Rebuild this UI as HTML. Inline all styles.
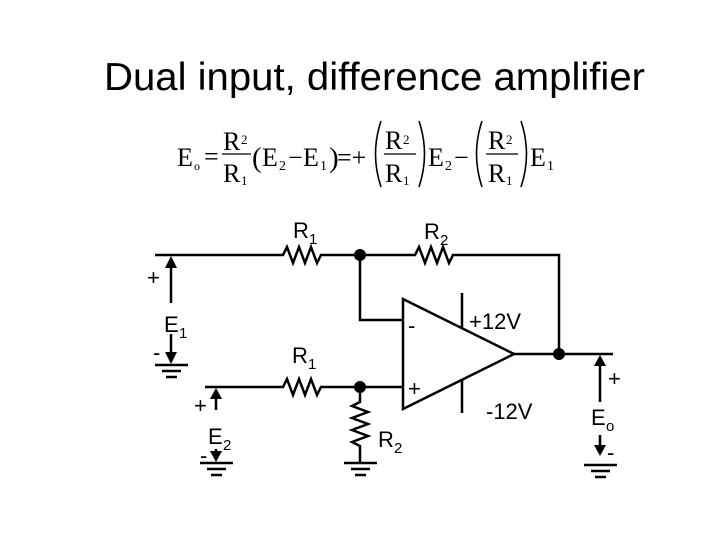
<!DOCTYPE html>
<html><head><style>body{margin:0;background:#fff}svg{display:block}</style></head><body>
<svg width="720" height="540" xmlns="http://www.w3.org/2000/svg" font-family="Liberation Sans, sans-serif">
<rect width="720" height="540" fill="#fff"/>
<text x="104" y="90" font-size="39" textLength="541" lengthAdjust="spacingAndGlyphs">Dual input, difference amplifier</text>
<g font-family="Liberation Serif, serif" font-size="26" fill="#000">
<text x="177" y="166">E</text><text x="194" y="170" font-size="12">o</text>
<text x="204" y="165">=</text>
<text x="223" y="150">R</text><text x="241" y="144" font-size="13">2</text>
<line x1="222" y1="154" x2="251" y2="154" stroke="#000" stroke-width="1.2"/>
<text x="223" y="182">R</text><text x="241" y="185" font-size="13">1</text>
<text x="252" y="167" font-size="29">(</text>
<text x="262" y="166">E</text><text x="279" y="170" font-size="14">2</text>
<text x="288" y="166">−</text>
<text x="303" y="166">E</text><text x="320" y="170" font-size="14">1</text>
<text x="329" y="167" font-size="29">)</text>
<text x="337" y="166">=+</text>
<text x="385" y="149">R</text><text x="403" y="144" font-size="13">2</text>
<line x1="384" y1="154" x2="416" y2="154" stroke="#000" stroke-width="1.2"/>
<text x="385" y="182">R</text><text x="403" y="185" font-size="13">1</text>
<text x="428" y="166">E</text><text x="445" y="170" font-size="14">2</text>
<text x="454" y="166">−</text>
<text x="488" y="149">R</text><text x="506" y="144" font-size="13">2</text>
<line x1="486" y1="154" x2="518" y2="154" stroke="#000" stroke-width="1.2"/>
<text x="488" y="182">R</text><text x="506" y="185" font-size="13">1</text>
<text x="530" y="166">E</text><text x="547" y="170" font-size="14">1</text>
</g>
<g stroke="#000" stroke-width="1.6" fill="none">
<path d="M381,121 Q370,154 381,187"/><path d="M419,121 Q430,154 419,187"/>
<path d="M482,121 Q471,154 482,187"/><path d="M521,121 Q532,154 521,187"/>
</g>
<g stroke="#000" stroke-width="2.5" fill="none">
<polyline points="155,255 283,255 287,247 293,263 299,247 305,263 311,247 317,263 321,255 415,255 419,247 425,263 431,247 437,263 443,247 449,263 453,255 559,255 559,354"/>
<polyline points="360,255 360,320 403,320"/>
<polyline points="205,387 283,387 287,379 293,395 299,379 305,395 311,379 317,395 321,387 403,387"/>
<polyline points="360,387 360,402 352,406 368,412 352,418 368,424 352,430 368,436 352,442 360,446 360,463"/>
<polygon points="403,299 403,409 514,354"/>
<line x1="514" y1="354" x2="613" y2="354"/>
<line x1="462" y1="293" x2="462" y2="328"/><line x1="462" y1="380" x2="462" y2="413"/>
<line x1="171" y1="262" x2="171" y2="303"/><line x1="171" y1="334" x2="171" y2="355"/>
<line x1="216" y1="395" x2="216" y2="410"/><line x1="216" y1="449" x2="216" y2="455"/>
<line x1="600" y1="362" x2="600" y2="402"/><line x1="600" y1="435" x2="600" y2="448"/>
</g>
<g fill="#000">
<circle cx="360" cy="255" r="6"/><circle cx="360" cy="387" r="6"/><circle cx="559" cy="354" r="6"/>
<polygon points="171,256 165,268 177,268"/><polygon points="171,364 165,352 177,352"/>
<polygon points="216,388 210,399 222,399"/><polygon points="216,462 210,451 222,451"/>
<polygon points="600,355 594,366 606,366"/><polygon points="600,456 594,445 606,445"/>
</g>
<g stroke="#000" stroke-width="2.5">
<line x1="155" y1="365" x2="188" y2="365"/><line x1="162" y1="371" x2="181" y2="371"/><line x1="166" y1="377" x2="177" y2="377"/>
<line x1="200" y1="463" x2="233" y2="463"/><line x1="207" y1="469" x2="226" y2="469"/><line x1="211" y1="475" x2="222" y2="475"/>
<line x1="344" y1="463" x2="377" y2="463"/><line x1="351" y1="469" x2="370" y2="469"/><line x1="355" y1="475" x2="366" y2="475"/>
<line x1="584" y1="465" x2="617" y2="465"/><line x1="591" y1="471" x2="610" y2="471"/><line x1="595" y1="477" x2="606" y2="477"/>
</g>
<g font-size="22" fill="#000">
<text x="293" y="238">R</text><text x="309" y="244" font-size="15">1</text>
<text x="424" y="239">R</text><text x="440" y="245" font-size="15">2</text>
<text x="292" y="363">R</text><text x="308" y="369" font-size="15">1</text>
<text x="378" y="447">R</text><text x="394" y="453" font-size="15">2</text>
<text x="164" y="332">E</text><text x="179" y="338" font-size="15">1</text>
<text x="208" y="444">E</text><text x="223" y="450" font-size="15">2</text>
<text x="591" y="425">E</text><text x="606" y="431" font-size="15">o</text>
<text x="469" y="329">+12V</text>
<text x="486" y="419">-12V</text>
<text x="147" y="285">+</text><text x="153" y="360">-</text>
<text x="194" y="413">+</text><text x="200" y="463">-</text>
<text x="608" y="386">+</text><text x="607" y="460">-</text>
<text x="408" y="333">-</text><text x="408" y="396">+</text>
</g>
</svg>
</body></html>
